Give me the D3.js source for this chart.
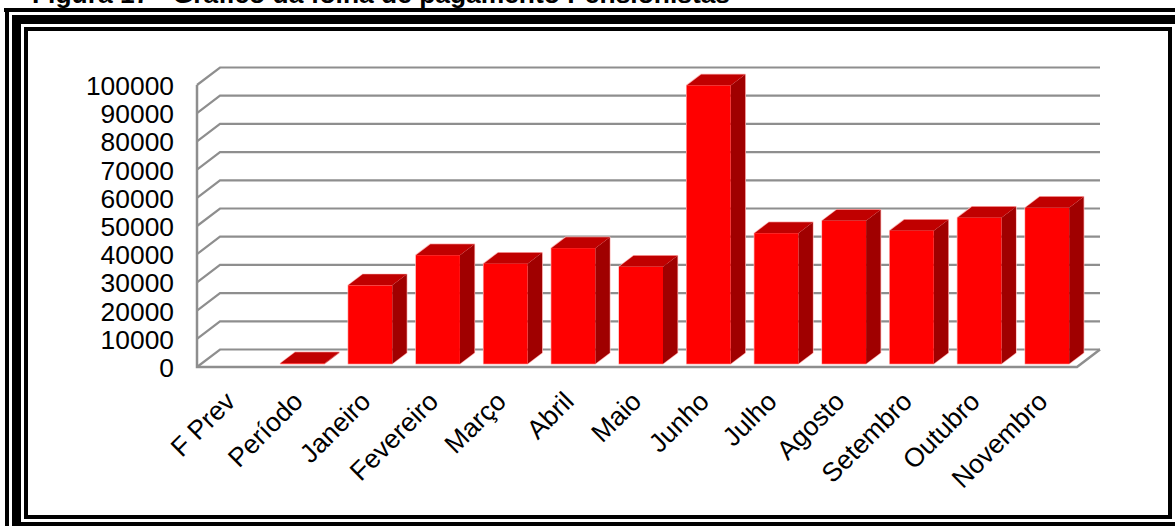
<!DOCTYPE html>
<html>
<head>
<meta charset="utf-8">
<script src="https://cdn.jsdelivr.net/npm/d3@7"></script>
<style>
  html, body { margin: 0; padding: 0; background: #fff; overflow: hidden; }
  svg { display: block; font-family: "Liberation Sans", Arial, sans-serif; }
</style>
</head>
<body>
<svg id="chart" width="1175" height="526"></svg>
<script>
const months = ["F Prev", "Período", "Janeiro", "Fevereiro", "Março", "Abril", "Maio", "Junho", "Julho", "Agosto", "Setembro", "Outubro", "Novembro"];
const values = [0, 200, 27800, 38500, 35500, 41000, 34400, 98700, 46300, 50700, 47200, 51800, 55300];
const yTicks = [0, 10000, 20000, 30000, 40000, 50000, 60000, 70000, 80000, 90000, 100000];
const title = "Figura 17 - Gráfico da folha de pagamento Pensionistas";

const svg = d3.select("#chart");

// double frame around the picture
const black = "#000";
function band(x, y, w, h) {
  svg.append("rect").attr("x", x).attr("y", y).attr("width", w).attr("height", h).attr("fill", black);
}
band(4, 8, 1171, 4);
band(5, 8, 4, 518);
band(12, 15, 1163, 9);
band(12, 15, 9, 511);
band(21, 522, 1154, 4);
band(24, 27, 1148, 4);
band(24, 27, 4, 492);
band(24, 515, 1148, 4);
band(1168, 27, 4, 492);

// the title is cut by the top of the page in the source picture too
svg.append("text")
  .attr("x", 32)
  .attr("y", 2.5)
  .attr("font-size", 26.4)
  .attr("font-weight", "bold")
  .text(title);

// front plane of the 3d box
const left = 197, right = 1077, floor = 367, topY = 85;
const wallDx = 23, wallDy = -17.5;
const barDx = 14.5, barDy = -11;

const x = d3.scaleBand()
  .domain(months)
  .range([left, right])
  .paddingInner(0.35)
  .paddingOuter(0.175);
const y = d3.scaleLinear().domain([0, 100000]).range([floor, topY]);

const grid = "#8e8e8e";
const line = d3.line();

// wall gridlines
svg.append("g").selectAll("path")
  .data(yTicks)
  .enter()
  .append("path")
  .attr("d", (d) => line([[left, y(d)], [left + wallDx, y(d) + wallDy], [right + wallDx, y(d) + wallDy]]))
  .attr("fill", "none")
  .attr("stroke", grid)
  .attr("stroke-width", 2.2);

// floor and left edge
svg.append("path")
  .attr("d", line([[left, y(100000)], [left, y(0)], [right, y(0)], [right + wallDx, y(0) + wallDy]]))
  .attr("fill", "none")
  .attr("stroke", grid)
  .attr("stroke-width", 2.5);

// bars, front face is set in the middle of the floor depth
const offX = 4, offY = (wallDy - barDy) / 2;
const bars = svg.append("g").selectAll("g")
  .data(months.map((m, i) => ({ month: m, value: values[i] })).filter((d) => d.value > 0))
  .enter()
  .append("g");

function barBox(d) {
  const x0 = x(d.month) + offX;
  const x1 = x0 + x.bandwidth();
  const y0 = y(0) + offY;
  const y1 = y(d.value) + offY;
  return { x0, x1, y0, y1 };
}

// pale outline goes under the faces, only the outer half stays visible
bars.append("path")
  .attr("fill", "none")
  .attr("stroke", "#ffb4b4")
  .attr("stroke-width", 1.4)
  .attr("stroke-linejoin", "round")
  .attr("d", (d) => {
    const b = barBox(d);
    return line([[b.x0, b.y0], [b.x0, b.y1], [b.x0 + barDx, b.y1 + barDy], [b.x1 + barDx, b.y1 + barDy], [b.x1 + barDx, b.y0 + barDy], [b.x1, b.y0]]) + "Z";
  });

bars.append("path")
  .attr("fill", "#a00000")
  .attr("d", (d) => {
    const b = barBox(d);
    return line([[b.x1, b.y0], [b.x1 + barDx, b.y0 + barDy], [b.x1 + barDx, b.y1 + barDy], [b.x1, b.y1]]) + "Z";
  });

bars.append("path")
  .attr("fill", "#c00000")
  .attr("d", (d) => {
    const b = barBox(d);
    return line([[b.x0, b.y1], [b.x0 + barDx, b.y1 + barDy], [b.x1 + barDx, b.y1 + barDy], [b.x1, b.y1]]) + "Z";
  });

bars.append("rect")
  .attr("fill", "#ff0000")
  .attr("x", (d) => barBox(d).x0)
  .attr("y", (d) => barBox(d).y1)
  .attr("width", x.bandwidth())
  .attr("height", (d) => barBox(d).y0 - barBox(d).y1);

// axes
const yAxis = svg.append("g")
  .attr("transform", `translate(${left - 23},1)`)
  .call(d3.axisLeft(y).tickValues(yTicks).tickSize(0).tickPadding(0).tickFormat(d3.format("d")));
yAxis.select(".domain").remove();
yAxis.selectAll("text")
  .attr("font-family", "Liberation Sans, Arial, sans-serif")
  .attr("font-size", 26.4)
  .attr("fill", "#000");

const xAxis = svg.append("g")
  .attr("transform", `translate(0,${floor})`)
  .call(d3.axisBottom(x).tickSize(0).tickPadding(0));
xAxis.select(".domain").remove();
xAxis.selectAll("text")
  .attr("font-family", "Liberation Sans, Arial, sans-serif")
  .attr("font-size", 26.5)
  .attr("fill", "#000")
  .attr("text-anchor", "end")
  .attr("dy", 0)
  .attr("transform", "translate(6,36) rotate(-45)");
</script>
</body>
</html>
